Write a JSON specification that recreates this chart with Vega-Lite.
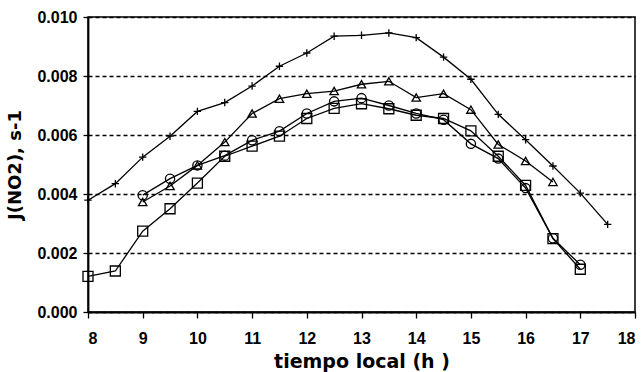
{
  "$schema": "https://vega.github.io/schema/vega-lite/v6.json",
  "autosize": {"type": "none"},
  "padding": {"left": 88, "top": 17, "right": 9, "bottom": 60},
  "width": 547,
  "height": 295,
  "background": "white",
  "config": {
    "view": {"stroke": "black", "strokeWidth": 1.5},
    "font": "Liberation Sans"
  },
  "data": {"values": [
    {"t": 8, "j": 0.00379, "s": "A"}, {"t": 8.5, "j": 0.00435, "s": "A"}, {"t": 9, "j": 0.00525, "s": "A"}, {"t": 9.5, "j": 0.00596, "s": "A"},
    {"t": 10, "j": 0.0068, "s": "A"}, {"t": 10.5, "j": 0.0071, "s": "A"}, {"t": 11, "j": 0.00766, "s": "A"}, {"t": 11.5, "j": 0.00833, "s": "A"},
    {"t": 12, "j": 0.00878, "s": "A"}, {"t": 12.5, "j": 0.00935, "s": "A"}, {"t": 13, "j": 0.00938, "s": "A"}, {"t": 13.5, "j": 0.00946, "s": "A"},
    {"t": 14, "j": 0.0093, "s": "A"}, {"t": 14.5, "j": 0.00864, "s": "A"}, {"t": 15, "j": 0.00789, "s": "A"}, {"t": 15.5, "j": 0.0067, "s": "A"},
    {"t": 16, "j": 0.00584, "s": "A"}, {"t": 16.5, "j": 0.00495, "s": "A"}, {"t": 17, "j": 0.00403, "s": "A"}, {"t": 17.5, "j": 0.00297, "s": "A"},
    {"t": 9, "j": 0.00373, "s": "B"}, {"t": 9.5, "j": 0.00427, "s": "B"}, {"t": 10, "j": 0.00497, "s": "B"}, {"t": 10.5, "j": 0.00576, "s": "B"},
    {"t": 11, "j": 0.00673, "s": "B"}, {"t": 11.5, "j": 0.00723, "s": "B"}, {"t": 12, "j": 0.0074, "s": "B"}, {"t": 12.5, "j": 0.00749, "s": "B"},
    {"t": 13, "j": 0.00772, "s": "B"}, {"t": 13.5, "j": 0.00782, "s": "B"}, {"t": 14, "j": 0.00727, "s": "B"}, {"t": 14.5, "j": 0.0074, "s": "B"},
    {"t": 15, "j": 0.00686, "s": "B"}, {"t": 15.5, "j": 0.00568, "s": "B"}, {"t": 16, "j": 0.00512, "s": "B"}, {"t": 16.5, "j": 0.00441, "s": "B"},
    {"t": 9, "j": 0.00396, "s": "C"}, {"t": 9.5, "j": 0.00452, "s": "C"}, {"t": 10, "j": 0.00497, "s": "C"}, {"t": 10.5, "j": 0.0053, "s": "C"},
    {"t": 11, "j": 0.00582, "s": "C"}, {"t": 11.5, "j": 0.00613, "s": "C"}, {"t": 12, "j": 0.00673, "s": "C"}, {"t": 12.5, "j": 0.00714, "s": "C"},
    {"t": 13, "j": 0.00725, "s": "C"}, {"t": 13.5, "j": 0.007, "s": "C"}, {"t": 14, "j": 0.00673, "s": "C"}, {"t": 14.5, "j": 0.00652, "s": "C"},
    {"t": 15, "j": 0.0057, "s": "C"}, {"t": 15.5, "j": 0.0052, "s": "C"}, {"t": 16, "j": 0.0042, "s": "C"}, {"t": 16.5, "j": 0.0025, "s": "C"},
    {"t": 17, "j": 0.0016, "s": "C"},
    {"t": 8, "j": 0.00121, "s": "D"}, {"t": 8.5, "j": 0.00139, "s": "D"}, {"t": 9, "j": 0.00274, "s": "D"}, {"t": 9.5, "j": 0.0035, "s": "D"},
    {"t": 10, "j": 0.00437, "s": "D"}, {"t": 10.5, "j": 0.00528, "s": "D"}, {"t": 11, "j": 0.00562, "s": "D"}, {"t": 11.5, "j": 0.00596, "s": "D"},
    {"t": 12, "j": 0.00656, "s": "D"}, {"t": 12.5, "j": 0.0069, "s": "D"}, {"t": 13, "j": 0.00706, "s": "D"}, {"t": 13.5, "j": 0.00689, "s": "D"},
    {"t": 14, "j": 0.00667, "s": "D"}, {"t": 14.5, "j": 0.00656, "s": "D"}, {"t": 15, "j": 0.00614, "s": "D"}, {"t": 15.5, "j": 0.00528, "s": "D"},
    {"t": 16, "j": 0.00429, "s": "D"}, {"t": 16.5, "j": 0.00249, "s": "D"}, {"t": 17, "j": 0.00145, "s": "D"}
  ]},
  "encoding": {
    "x": {
      "field": "t", "type": "quantitative",
      "scale": {"domain": [8, 18], "nice": false, "zero": false},
      "axis": {
        "title": "tiempo local (h )", "values": [8, 9, 10, 11, 12, 13, 14, 15, 16, 17, 18],
        "grid": false, "domainColor": "black", "domainWidth": 1.8, "tickColor": "black", "tickSize": 6, "tickWidth": 1.3,
        "labelFont": "Liberation Sans", "labelFontSize": 16, "labelFontWeight": "bold", "labelColor": "black", "labelPadding": 12,
        "titleFont": "DejaVu Sans", "titleFontSize": 19, "titleFontWeight": "bold", "titleColor": "black", "titlePadding": 6
      }
    },
    "y": {
      "field": "j", "type": "quantitative",
      "scale": {"domain": [0, 0.01], "nice": false},
      "axis": {
        "title": "J(NO2), s-1", "values": [0, 0.002, 0.004, 0.006, 0.008, 0.01], "format": ".3f",
        "grid": true, "gridColor": "black", "gridDash": [4, 3], "gridWidth": 1.5, "gridOpacity": 1,
        "domainColor": "black", "domainWidth": 1.8, "tickColor": "black", "tickSize": 5, "tickWidth": 1.3,
        "labelFont": "Liberation Sans", "labelFontSize": 16, "labelFontWeight": "bold", "labelColor": "black", "labelPadding": 6,
        "titleFont": "DejaVu Sans", "titleFontSize": 18, "titleFontWeight": "bold", "titleColor": "black", "titlePadding": 12
      }
    }
  },
  "layer": [
    {
      "mark": {"type": "line", "color": "black", "strokeWidth": 1.3},
      "encoding": {"detail": {"field": "s"}}
    },
    {
      "mark": {"type": "point", "filled": false, "color": "black", "strokeWidth": 1.3, "opacity": 1},
      "encoding": {
        "shape": {"field": "s", "scale": {"domain": ["A", "B", "C", "D"], "range": ["M-1,0L1,0M0,-1L0,1", "triangle-up", "circle", "square"]}, "legend": null},
        "size": {"field": "s", "scale": {"domain": ["A", "B", "C", "D"], "range": [55, 100, 80, 85]}, "legend": null}
      }
    }
  ]
}
